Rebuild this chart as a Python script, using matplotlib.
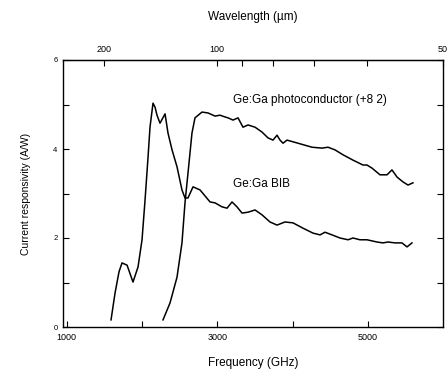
import numpy as np
import matplotlib.pyplot as plt

plt.rcParams['font.family'] = ['Liberation Sans', 'DejaVu Sans']

# Ge:Ga BIB, frequency (GHz) vs current responsivity (A/W)
bib_freq = [1588, 1641, 1694, 1734, 1801, 1880, 1947, 2000, 2040, 2080, 2106,
            2146, 2173, 2199, 2239, 2306, 2345, 2399, 2465, 2531, 2571, 2611,
            2678, 2771, 2904, 2970, 3063, 3130, 3196, 3262, 3329, 3409, 3502,
            3595, 3701, 3794, 3900, 4007, 4140, 4272, 4366, 4432, 4525, 4631,
            4738, 4804, 4897, 4990, 5123, 5203, 5269, 5362, 5455, 5522, 5588]
bib_resp = [0.16, 0.76, 1.24, 1.44, 1.39, 1.01, 1.35, 1.96, 2.85, 3.82, 4.49,
            5.03, 4.94, 4.76, 4.58, 4.79, 4.36, 3.98, 3.60, 3.08, 2.90, 2.90,
            3.15, 3.08, 2.81, 2.79, 2.70, 2.67, 2.81, 2.70, 2.56, 2.58, 2.63,
            2.52, 2.36, 2.29, 2.36, 2.34, 2.22, 2.11, 2.07, 2.13, 2.07, 2.00,
            1.96, 2.00, 1.96, 1.96, 1.91, 1.89, 1.91, 1.89, 1.89, 1.80, 1.89]

# Ge:Ga photoconductor (divided by 8.2)
pc_freq = [2279, 2372, 2465, 2531, 2571, 2611, 2664, 2704, 2797, 2877, 2970,
           3036, 3103, 3143, 3209, 3276, 3342, 3409, 3502, 3595, 3674, 3741,
           3794, 3834, 3874, 3927, 4073, 4259, 4392, 4472, 4565, 4671, 4804,
           4937, 4990, 5057, 5163, 5256, 5322, 5389, 5469, 5535, 5601]
pc_resp = [0.16, 0.54, 1.12, 1.89, 2.79, 3.46, 4.36, 4.70, 4.83, 4.81, 4.74,
           4.76, 4.72, 4.70, 4.65, 4.70, 4.49, 4.54, 4.49, 4.38, 4.25, 4.20,
           4.31, 4.20, 4.13, 4.20, 4.13, 4.04, 4.02, 4.04, 3.98, 3.87, 3.75,
           3.64, 3.64, 3.57, 3.42, 3.42, 3.53, 3.37, 3.26, 3.19, 3.24]

freq_ticks = [1000, 2000, 3000, 4000, 5000]
freq_labels = ['1000', '', '3000', '', '5000']
resp_ticks = [0, 1, 2, 3, 4, 5, 6]
resp_labels = ['0', '', '2', '', '4', '', '6']
wl_ticks = [200, 100, 90, 80, 70, 60, 50]
wl_labels = ['200', '100', '', '', '', '', '50']

fig = plt.figure(figsize=(4.47, 3.75), dpi=100)
ax = fig.add_axes([0.141, 0.128, 0.850, 0.712])

ax.plot(bib_freq, bib_resp, color='black', lw=1.1)
ax.plot(pc_freq, pc_resp, color='black', lw=1.1)

ax.text(3209, 5.1, 'Ge:Ga photoconductor (+8 2)', fontsize=8.5, va='center')
ax.text(3209, 3.21, 'Ge:Ga BIB', fontsize=8.5, va='center')

ax.set_xlim(950, 6000)
ax.set_ylim(0, 6)
ax.set_xticks(freq_ticks)
ax.set_xticklabels(freq_labels, fontsize=6.5)
ax.set_yticks(resp_ticks)
ax.set_yticklabels(resp_labels, fontsize=5.5)
ax.tick_params(direction='in', length=4, width=0.8, right=True, pad=4)
ax.set_xlabel('Frequency (GHz)', fontsize=8.5, labelpad=11)
ax.set_ylabel('Current responsivity (A/W)', fontsize=7.5, labelpad=16)

top = ax.secondary_xaxis('top', functions=(lambda f: 299792.458 / np.maximum(f, 1e-6),
                                            lambda w: 299792.458 / np.maximum(w, 1e-6)))
top.set_xticks(wl_ticks)
top.set_xticklabels(wl_labels, fontsize=6.5)
top.tick_params(direction='in', length=4, width=0.8, pad=4)
top.set_xlabel('Wavelength (\u00b5m)', fontsize=8.5, labelpad=18)

for s in ax.spines.values():
    s.set_linewidth(1.0)

fig.savefig('out.png', dpi=100)
